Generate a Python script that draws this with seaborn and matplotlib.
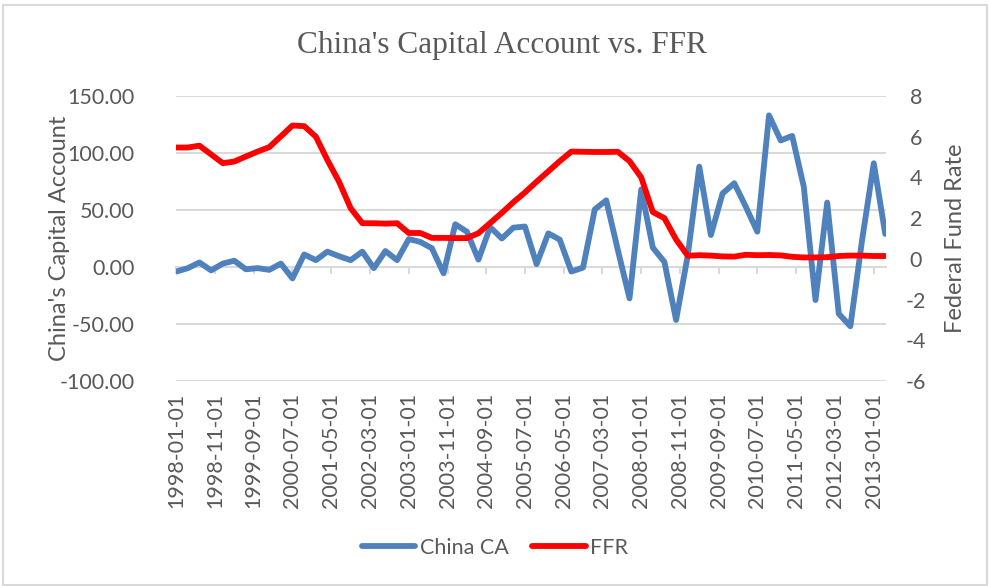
import numpy as np
import pandas as pd
import matplotlib.pyplot as plt
import matplotlib.dates as mdates
import seaborn as sns
from matplotlib.patches import Rectangle

# quarterly data, 1998Q1 - 2013Q2
dates = pd.date_range('1998-01-01', '2013-04-01', freq='QS')
china_ca = [-4, -1, 4, -3, 3, 5.5, -2, -1, -2.5, 3,
            -10, 11, 6, 13.5, 9.5, 6, 13.5, -1, 14, 6,
            24.5, 22, 16.5, -5.5, 37.5, 31, 6.5, 35, 25, 34.5,
            35.5, 2.5, 29.5, 24, -4, -0.5, 50.5, 58.5, 15, -27.5,
            68, 17, 4.5, -46.5, 10.5, 88, 28, 64.5, 73.5, 53,
            31, 133, 111, 115, 70.5, -29, 56.5, -41, -52, 23.5,
            91, 29]
ffr = [5.47, 5.47, 5.56, 5.13, 4.70, 4.78, 5.03, 5.27, 5.49, 6.02,
       6.55, 6.52, 6.0, 4.86, 3.80, 2.49, 1.75, 1.75, 1.73, 1.75,
       1.27, 1.27, 1.03, 1.03, 1.02, 1.02, 1.26, 1.76, 2.26, 2.78,
       3.26, 3.79, 4.30, 4.80, 5.27, 5.26, 5.25, 5.25, 5.26, 4.80,
       4.0, 2.3, 2.0, 0.95, 0.15, 0.18, 0.16, 0.12, 0.11, 0.20,
       0.18, 0.19, 0.17, 0.10, 0.07, 0.07, 0.08, 0.14, 0.16, 0.16,
       0.14, 0.14]
tick_dates = pd.date_range('1998-01-01', '2013-01-01', freq='10MS')

df = pd.DataFrame({'date': dates, 'China CA': china_ca, 'FFR': ffr})

sns.set_theme(style='white')
plt.rcParams['font.family'] = ['Lato', 'DejaVu Sans']
plt.rcParams['axes.unicode_minus'] = False

text_col = '#595959'
grid_col = '#d9d9d9'

fig = plt.figure(figsize=(9.9, 5.86), dpi=100)
ax = fig.add_axes([176/990, 1-381/586, 710/990, 285/586])
ax2 = ax.twinx()

sns.lineplot(data=df, x='date', y='China CA', ax=ax, color='#4f81bd', lw=4.2)
sns.lineplot(data=df, x='date', y='FFR', ax=ax2, color='#ff0000', lw=4.2)

ax.set_ylim(-100, 150)
ax.set_yticks(np.arange(-100, 151, 50))
ax.set_yticklabels(['{:.2f}'.format(v) for v in np.arange(-100, 151, 50)])
ax2.set_ylim(-6, 8)
ax2.set_yticks(range(-6, 9, 2))

ax.set_xlim(dates[0] - pd.Timedelta(days=3), dates[-1] + pd.Timedelta(days=6))
ax.set_xticks(tick_dates)
ax.set_xticklabels([d.strftime('%Y-%m-%d') for d in tick_dates], rotation=90)

ax.grid(axis='y', color=grid_col, lw=1.45)
ax.grid(axis='x', visible=False)
ax2.grid(False)
for a in (ax, ax2):
    for s in a.spines.values():
        s.set_visible(False)
    a.set_xlabel('')
    a.set_ylabel('')

ax.tick_params(axis='y', length=0, pad=30, labelsize=15.5, labelcolor=text_col)
ax.tick_params(axis='x', length=0, pad=8.5, labelsize=15.5, labelcolor=text_col)
ax2.tick_params(axis='y', length=0, pad=21.5, labelsize=15.5, labelcolor=text_col)
for t in ax2.get_yticklabels():
    t.set_horizontalalignment('center')

# horizontal axis line with tick marks crosses at 0
sec = ax.secondary_xaxis(100/250)
sec.set_xticks(mdates.date2num(tick_dates))
sec.tick_params(axis='x', length=5, width=1.45, color=grid_col, labelbottom=False, labeltop=False)
for s in sec.spines.values():
    s.set_color(grid_col)
    s.set_linewidth(1.45)

fig.text(0.507, 1-45/586, "China's Capital Account vs. FFR", ha='center', va='center',
         fontsize=22.5, color=text_col, family=['Liberation Serif', 'DejaVu Serif'])
fig.text(60/990, 1-238/586, "China's Capital Account", rotation=90, ha='center', va='center',
         fontsize=17, color=text_col)
fig.text(955/990, 1-238/586, "Federal Fund Rate", rotation=90, ha='center', va='center',
         fontsize=17, color=text_col)

handles = [ax.lines[0], ax2.lines[0]]
fig.legend(handles, ['China CA', 'FFR'], loc='center', bbox_to_anchor=(0.5, 1-548/586),
           ncol=2, frameon=False, fontsize=15.5, handlelength=2.5, handletextpad=0.2,
           columnspacing=1.1, labelcolor=text_col)

fig.patches.append(Rectangle((3/990, 0.002), 984/990, (586-6)/586, transform=fig.transFigure,
                             fill=False, edgecolor=grid_col, lw=1.5))

plt.savefig('out.png', dpi=100)
